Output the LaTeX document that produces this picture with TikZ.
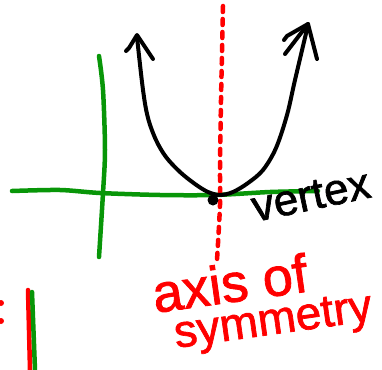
\documentclass[tikz,border=0pt]{standalone}
\usepackage{fontspec}
\setmainfont{Liberation Sans}[FakeBold=1.5]
\definecolor{penred}{RGB}{255,0,0}
\definecolor{pengreen}{RGB}{8,150,8}
\begin{document}
\begin{tikzpicture}[x=1pt,y=-1pt,
  greenpen/.style={draw=pengreen,line width=4.5pt,line cap=round,line join=round},
  blackpen/.style={draw=black,line width=4pt,line cap=round,line join=round},
  redpen/.style={draw=penred,line width=4.5pt,line cap=round},
  reddots/.style={draw=penred,line width=4.5pt,line cap=round,dash pattern=on 6pt off 7pt},
  label/.style={inner sep=0pt,anchor=base west,font=\fontsize{#1}{#1}\selectfont}]
\useasboundingbox (0,0) rectangle (382,369);
% axes
\draw[greenpen] plot[smooth] coordinates {(12,191) (60,190) (100,193) (160,195) (215,195) (270,192) (318,191)};
\draw[greenpen] plot[smooth] coordinates {(99,56) (103,90) (105,150) (103,193) (99,257)};
% axis of symmetry (dotted)
\draw[reddots] plot[smooth] coordinates {(223,6) (221,100) (220,167) (220,205) (217,260)};
% parabola with arrows
\draw[blackpen] plot[smooth,tension=0.55] coordinates {(137,37) (143,90) (148,118) (156,140) (166,157) (180,172) (195,184) (208,192) (220,195) (233,192) (248,183) (263,170) (276,148) (287,115) (295,80) (308,25)};
\draw[blackpen] (126,51) -- (129,48) -- (137,35) -- (153,59);
\draw[blackpen] (284,40) -- (287,36) -- (308,24) -- (317,59);
\draw[blackpen] (308,24) -- (285,54);
% vertex point
\fill (213,200) circle (5.5);
% labels
\node[label=44,rotate=12] (vtx) at (255,222) {vertex};
\node[label=54,text=penred,rotate=8] (axis) at (155,313) {axis of};
\node[label=46,text=penred,rotate=8] (sym) at (176,348) {symmetry};
% bottom-left fragments
\draw[redpen] (28,290) -- (30,370);
\draw[greenpen] (32,292) -- (35,370);
\fill[penred] (1,303) circle (3);
\fill[penred] (1,321) circle (3);
\end{tikzpicture}
\end{document}
